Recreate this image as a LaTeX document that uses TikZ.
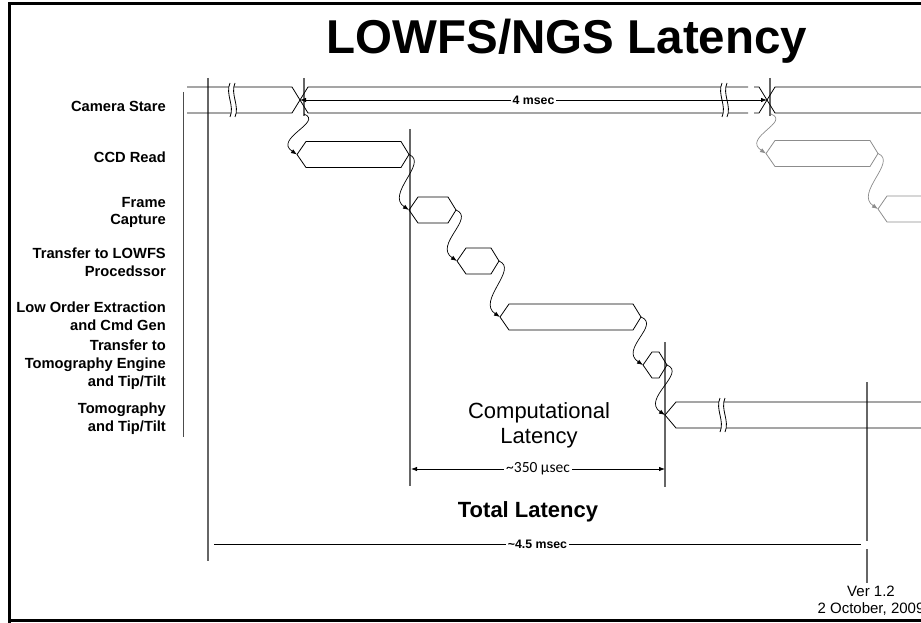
\documentclass[tikz,border=0pt]{standalone}
\usepackage{fontspec}
\setmainfont{Liberation Sans}
\newfontfamily\calfont{Carlito}
\usetikzlibrary{arrows.meta, calc}

\tikzset{
  sig/.style={draw=black, line width=0.8pt},
  ghost/.style={draw=black!45, line width=0.8pt},
  marker/.style={draw=black!60, line width=1.2pt},
  hop/.style={-{Latex[length=6pt,width=4.5pt]}, line width=0.7pt},
  dim/.style={{Latex[length=6pt,width=4.5pt]}-{Latex[length=6pt,width=4.5pt]}, line width=0.8pt},
  rowlbl/.style={anchor=north east, align=right, inner sep=0pt,
    font=\fontsize{14.7}{17.6}\selectfont\bfseries},
}

% hexagon box: [style]{name}{left tip}{right tip}{centre y}
\newcommand{\hexbox}[5][sig]{%
  \coordinate (#2-w) at (#3,#5);
  \coordinate (#2-e) at (#4,#5);
  \draw[#1] (#3,#5) -- (#3+9,#5-13) -- (#4-8,#5-13) -- (#4,#5)
    -- (#4-8,#5+13) -- (#3+9,#5+13) -- cycle;
}
% break mark: {x}{centre y}
\newcommand{\brk}[2]{%
  \fill[white] (#1,#2-17) .. controls (#1-5,#2-6) and (#1+5,#2+6) .. (#1,#2+17)
    -- (#1+5,#2+17) .. controls (#1+10,#2+6) and (#1,#2-6) .. (#1+5,#2-17) -- cycle;
  \draw[sig] (#1,#2-17) .. controls (#1-5,#2-6) and (#1+5,#2+6) .. (#1,#2+17);
  \draw[sig] (#1+5,#2-17) .. controls (#1,#2-6) and (#1+10,#2+6) .. (#1+5,#2+17);
}
% wavy hand-over arrow: [style]{from}{to}
\newcommand{\hop}[3][]{%
  \draw[hop,#1] (#2) .. controls ($(#2)+(20,8)$) and ($(#3)+(-24,-16)$) .. (#3);
}

\begin{document}
\begin{tikzpicture}[x=1pt,y=-1pt]
  \useasboundingbox (0,0) rectangle (921,623);
  \clip (0,0) rectangle (921,623);

  % slide frame
  \draw[line width=3pt] (9.5,640) -- (9.5,3.5) -- (940,3.5);
  \draw[line width=3pt] (9.5,620.5) -- (940,620.5);

  \node (title) at (567,41) {\fontsize{47.5}{54}\selectfont\bfseries LOWFS/NGS Latency};

  % row labels
  \node[rowlbl] (lStare) at (166,100.7) {Camera Stare};
  \node[rowlbl] (lCCD)   at (166,151.7) {CCD Read};
  \node[rowlbl] (lFrame) at (166,196.7) {Frame\\Capture};
  \node[rowlbl] (lXfer)  at (166,248)   {Transfer to LOWFS\\Procedssor};
  \node[rowlbl] (lLoe)   at (166,301.7) {Low Order Extraction\\and Cmd Gen};
  \node[rowlbl] (lTomx)  at (166,340)   {Transfer to\\Tomography Engine\\and Tip/Tilt};
  \node[rowlbl] (lTomo)  at (166,402.7) {Tomography\\and Tip/Tilt};

  % time markers
  \draw[line width=0.8pt, black!70] (183,92) -- (183,437);
  \draw[marker] (208,78) -- (208,561);
  \draw[marker] (304,78) -- (304,116);
  \draw[marker] (770,78) -- (770,116);
  \draw[marker] (410,129) -- (410,486);
  \draw[marker] (665,342) -- (665,487);
  \draw[marker] (867,382) -- (867,541);
  \draw[marker] (867,549) -- (867,583);

  % camera stare
  \coordinate (stare-a) at (304,114);
  \coordinate (stare-b) at (771,114);
  \draw[sig] (187,87) -- (292,87) -- (308,113) -- (748,113);
  \draw[sig] (187,113) -- (292,113) -- (308,87) -- (748,87);
  \draw[sig] (754,87) -- (759,87) -- (775,113) -- (930,113);
  \draw[sig] (754,113) -- (759,113) -- (775,87) -- (930,87);
  \brk{230}{100}
  \brk{722}{100}
  \draw[dim] (300,100) -- (767,100)
    node[midway, fill=white, inner sep=2pt, font=\fontsize{12.3}{14}\selectfont\bfseries] (stareDim) {4 msec};

  % processing chain
  \hexbox{ccd}{297}{409}{154.5}
  \hexbox{fc}{409}{456}{210}
  \hexbox{xfer}{457}{499}{261}
  \hexbox{loe}{500}{641}{317}
  \hexbox{tomx}{643}{667}{365}
  \coordinate (tomo-w) at (665,415);
  \draw[sig] (930,402) -- (676,402) -- (tomo-w) -- (676,428) -- (930,428);
  \brk{720}{415}

  \hop{stare-a}{ccd-w}
  \hop{ccd-e}{fc-w}
  \hop{fc-e}{xfer-w}
  \hop{xfer-e}{loe-w}
  \hop{loe-e}{tomx-w}
  \hop{tomx-e}{tomo-w}

  % next frame (greyed)
  \hexbox[ghost]{ccdB}{766}{878}{153.5}
  \coordinate (fcB-w) at (878,209);
  \draw[ghost] (930,196) -- (887,196) -- (fcB-w) -- (887,222) -- (930,222);
  \hop[black!45]{stare-b}{ccdB-w}
  \hop[black!45]{ccdB-e}{fcB-w}

  % latencies
  \node[align=center, anchor=north, inner sep=0pt, font=\fontsize{22}{25}\selectfont] (compLat) at (539,402) {Computational\\Latency};
  \draw[dim] (411,469) -- (665,469)
    node[midway, fill=white, inner sep=2pt, font=\calfont\fontsize{15.5}{17}\selectfont] (compDim) {\textasciitilde 350 µsec};
  \node[font=\fontsize{22}{25}\selectfont\bfseries] (totLat) at (528,512) {Total Latency};
  \draw[sig] (214,544) -- (861,544)
    node[pos=0.5, fill=white, inner sep=2pt, font=\fontsize{12.3}{14}\selectfont\bfseries] (totDim) {\textasciitilde 4.5 msec};

  \node[align=center, anchor=north, inner sep=0pt, font=\fontsize{15}{17}\selectfont] (ver) at (871,586) {Ver 1.2\\2 October, 2009};
\end{tikzpicture}
\end{document}
